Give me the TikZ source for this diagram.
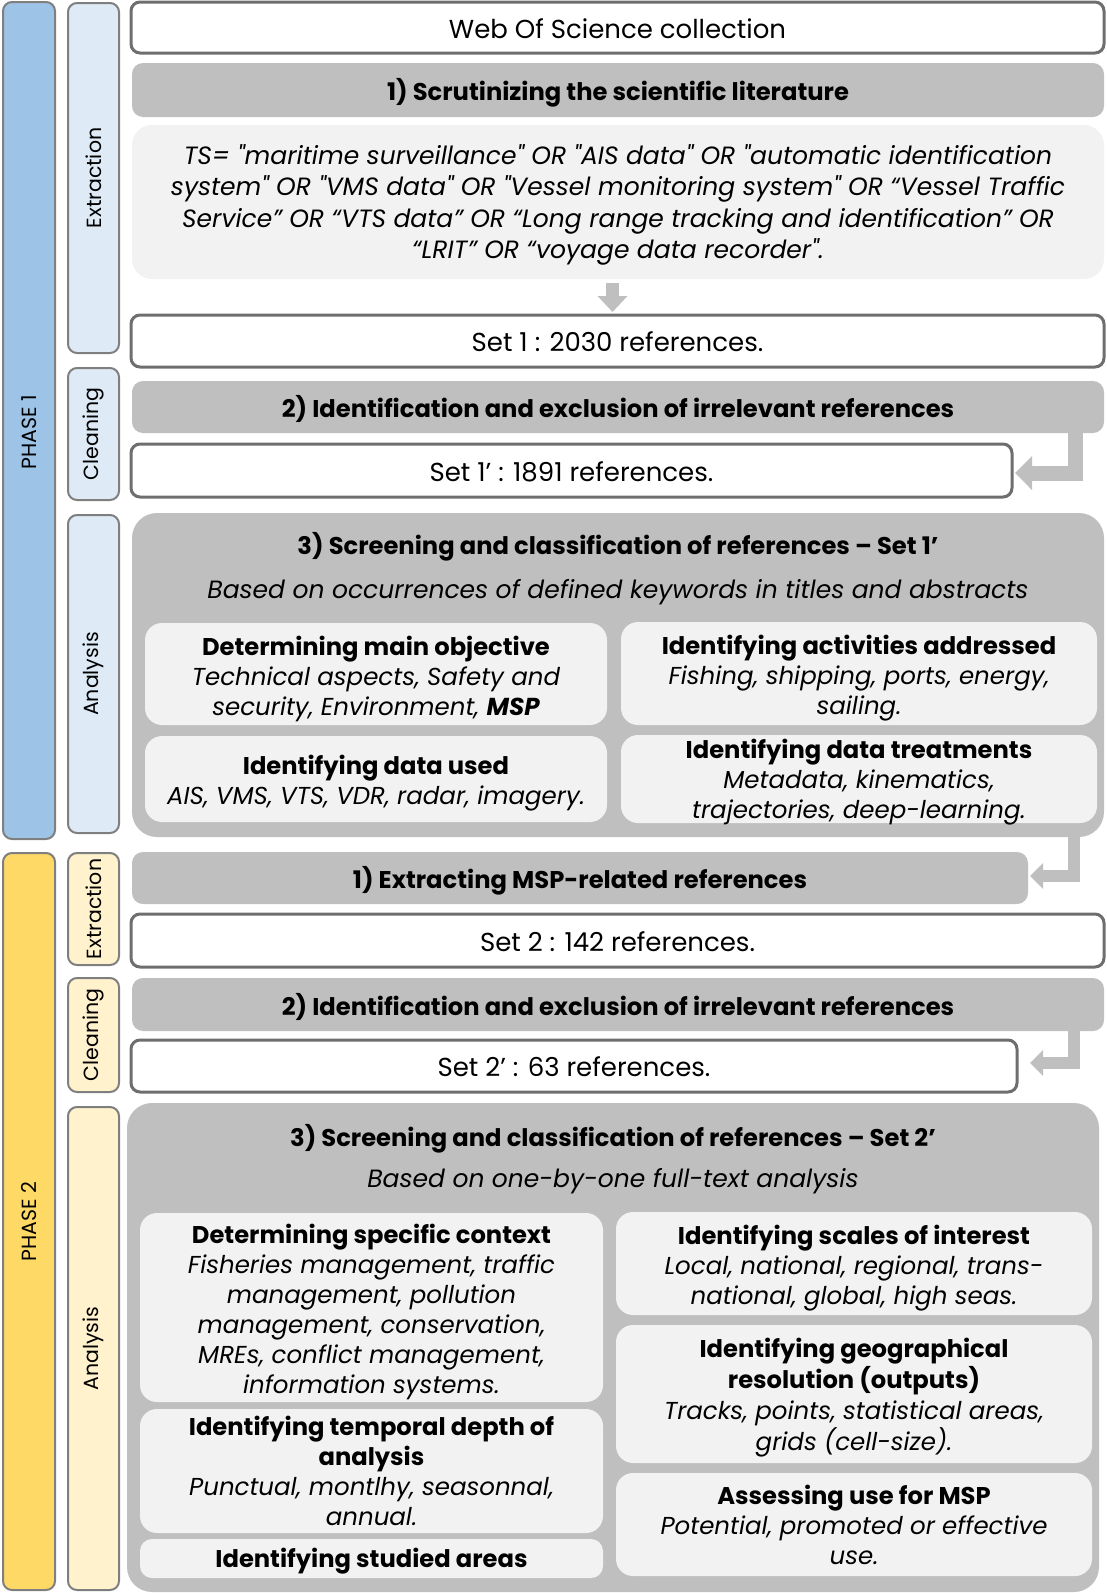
\documentclass[tikz,border=0pt]{standalone}
\usepackage{fontspec}
\setmainfont{Poppins}[Ligatures=TeXOff]
\usetikzlibrary{arrows.meta}
\definecolor{phonecol}{HTML}{9DC3E6}
\definecolor{phonesub}{HTML}{DEEBF7}
\definecolor{phtwocol}{HTML}{FFD966}
\definecolor{phtwosub}{HTML}{FFF2CC}
\definecolor{barborder}{HTML}{7F7F7F}
\definecolor{boxborder}{HTML}{6E6E6E}
\definecolor{gbar}{HTML}{BFBFBF}
\definecolor{lbox}{HTML}{F2F2F2}
\newcommand{\fsreg}{\fontsize{26}{30}\selectfont}
\newcommand{\fsbold}{\fontsize{24.2}{30}\selectfont\bfseries}
\newcommand{\fsital}{\fontsize{24.5}{30}\selectfont\itshape}
\newcommand{\fssub}{\fontsize{25}{30}\selectfont\itshape}
\newcommand{\fsside}{\fontsize{20.5}{25}\selectfont}
\newcommand{\bl}[1]{{\fsbold #1}}
\newcommand{\il}[1]{{\fsital #1}}
\begin{document}
\begin{tikzpicture}[x=1pt,y=-1pt,
  every node/.style={inner sep=0pt, outer sep=0pt, text=black},
  sidebar/.style={rotate=90, draw=barborder, line width=2pt, rounded corners=9pt, font=\fsside},
  whitebox/.style={fill=white, draw=boxborder, line width=3pt, rounded corners=9pt},
  graybar/.style={fill=gbar, rounded corners=11pt},
  querybox/.style={fill=lbox, rounded corners=20pt},
  bigbox/.style={fill=gbar, rounded corners=25pt},
  innerbox/.style={fill=lbox, rounded corners=17pt},
  regtext/.style={font=\fsreg},
  boldtext/.style={font=\fsbold},
  subtext/.style={font=\fssub},
  cellstext/.style={font=\fsreg, align=center},
  bigarrow/.style={draw=gbar, line width=15pt, -{Triangle[width=33pt 0, length=17pt 0]}},
  smallarrow/.style={draw=gbar, line width=12pt, -{Triangle[width=25pt 0, length=13pt 0]}},
  downarrow/.style={draw=gbar, line width=13pt, -{Triangle[width=29pt 0, length=16pt 0]}}
]
\useasboundingbox (0,0) rectangle (1106,1593);

% phase bars
\node[sidebar, fill=phonecol, minimum width=837, minimum height=52] (ph1) at (29,420.5) {PHASE 1\hspace*{24pt}};
\node[sidebar, fill=phtwocol, minimum width=737, minimum height=52] (ph2) at (29,1221.5) {PHASE 2};
% step bars
\node[sidebar, fill=phonesub, minimum width=350, minimum height=51] (s1e) at (93.5,178) {Extraction};
\node[sidebar, fill=phonesub, minimum width=132, minimum height=51] (s1c) at (93.5,434) {Cleaning};
\node[sidebar, fill=phonesub, minimum width=318, minimum height=51] (s1a) at (93.5,674) {Analysis};
\node[sidebar, fill=phtwosub, minimum width=112, minimum height=51] (s2e) at (93.5,909) {Extraction};
\node[sidebar, fill=phtwosub, minimum width=114, minimum height=51] (s2c) at (93.5,1035) {Cleaning};
\node[sidebar, fill=phtwosub, minimum width=483, minimum height=51] (s2a) at (93.5,1348.5) {Analysis};

% phase 1 column
\node[whitebox, minimum width=973, minimum height=51] (wos) at (617.5,27.5) {};
\node[regtext, yshift=-1pt] (wost) at (wos.center) {Web Of Science collection};
\node[graybar, minimum width=972, minimum height=54] (t1) at (618,90) {};
\node[boldtext, yshift=-3pt] (t1t) at (t1.center) {1) Scrutinizing the scientific literature};
\node[querybox, minimum width=972, minimum height=154] (query) at (618,202) {};
\node[font=\fontsize{25}{31.5}\selectfont\itshape, align=center, yshift=-3pt] (queryt) at (query.center) {%
TS= "maritime surveillance" OR "AIS data" OR "automatic identification\\
system" OR "VMS data" OR "Vessel monitoring system" OR “Vessel Traffic\\
Service” OR “VTS data” OR “Long range tracking and identification” OR\\
“LRIT” OR “voyage data recorder".};
\node[whitebox, minimum width=973, minimum height=52] (set1) at (617.5,341) {};
\node[regtext, yshift=-1pt] (set1t) at (set1.center) {Set 1 : 2030 references.};
\node[graybar, minimum width=972, minimum height=52] (t2) at (618,407) {};
\node[boldtext, yshift=-2pt] (t2t) at (t2.center) {2) Identification and exclusion of irrelevant references};
\node[whitebox, minimum width=881, minimum height=53] (set1p) at (571.5,470.5) {};
\node[regtext, yshift=-1pt] (set1pt) at (set1p.center) {Set 1’ : 1891 references.};

\node[bigbox, minimum width=972, minimum height=324] (a1) at (618,675) {};
\node[boldtext] (a1t) at (618,547) {3) Screening and classification of references – Set 1’};
\node[subtext] (a1s) at (618,592) {Based on occurrences of defined keywords in titles and abstracts};
\node[innerbox, minimum width=462, minimum height=102] (b11) at (376,674) {};
\node[cellstext, yshift=-5pt] (b11t) at (b11.center) {%
\bl{Determining main objective}\\
\il{Technical aspects, Safety and}\\
\il{security, Environment, {\bfseries MSP}}};
\node[innerbox, minimum width=476, minimum height=103] (b12) at (859,673.5) {};
\node[cellstext, yshift=-5pt] (b12t) at (b12.center) {%
\bl{Identifying activities addressed}\\
\il{Fishing, shipping, ports, energy,}\\
\il{sailing.}};
\node[innerbox, minimum width=462, minimum height=86] (b13) at (376,779) {};
\node[cellstext, yshift=-4pt] (b13t) at (b13.center) {%
\bl{Identifying data used}\\
\il{AIS, VMS, VTS, VDR, radar, imagery.}};
\node[innerbox, minimum width=476, minimum height=88] (b14) at (859,779) {};
\node[cellstext, yshift=-3.5pt] (b14t) at (b14.center) {%
\bl{Identifying data treatments}\\
\il{Metadata, kinematics,}\\
\il{trajectories, deep-learning.}};

% phase 2 column
\node[graybar, minimum width=896, minimum height=52] (p2t1) at (580,878) {};
\node[boldtext, yshift=-3pt] (p2t1t) at (p2t1.center) {1) Extracting MSP-related references};
\node[whitebox, minimum width=973, minimum height=53] (set2) at (617.5,940.5) {};
\node[regtext, yshift=-1pt] (set2t) at (set2.center) {Set 2 : 142 references.};
\node[graybar, minimum width=972, minimum height=53] (p2t2) at (618,1004.5) {};
\node[boldtext, yshift=-2pt] (p2t2t) at (p2t2.center) {2) Identification and exclusion of irrelevant references};
\node[whitebox, minimum width=886, minimum height=52] (set2p) at (574,1066) {};
\node[regtext, yshift=-1pt] (set2pt) at (set2p.center) {Set 2’ : 63 references.};

\node[bigbox, minimum width=972, minimum height=489] (a2) at (613,1347.5) {};
\node[boldtext] (a2t) at (613,1139) {3) Screening and classification of references – Set 2’};
\node[subtext] (a2s) at (613,1181) {Based on one-by-one full-text analysis};
\node[innerbox, minimum width=463, minimum height=189] (c1) at (371.5,1307.5) {};
\node[cellstext, yshift=-4pt] (c1t) at (c1.center) {%
\bl{Determining specific context}\\
\il{Fisheries management, traffic}\\
\il{management, pollution}\\
\il{management, conservation,}\\
\il{MREs, conflict management,}\\
\il{information systems.}};
\node[innerbox, minimum width=463, minimum height=124] (c2) at (371.5,1471) {};
\node[cellstext] (c2t) at (c2.center) {%
\bl{Identifying temporal depth of}\\
\bl{analysis}\\
\il{Punctual, montlhy, seasonnal,}\\
\il{annual.}};
\node[innerbox, rounded corners=12pt, minimum width=463, minimum height=39] (c3) at (371.5,1558.5) {};
\node[boldtext, yshift=-3pt] (c3t) at (c3.center) {Identifying studied areas};
\node[innerbox, minimum width=476, minimum height=103] (d1) at (854,1263.5) {};
\node[cellstext, yshift=-4.5pt] (d1t) at (d1.center) {%
\bl{Identifying scales of interest}\\
\il{Local, national, regional, trans-}\\
\il{national, global, high seas.}};
\node[innerbox, minimum width=476, minimum height=138] (d2) at (854,1394) {};
\node[cellstext, font=\fontsize{26}{31}\selectfont, yshift=-4pt] (d2t) at (d2.center) {%
\bl{Identifying geographical}\\
\bl{resolution (outputs)}\\
\il{Tracks, points, statistical areas,}\\
\il{grids (cell-size).}};
\node[innerbox, minimum width=476, minimum height=103] (d3) at (854,1524.5) {};
\node[cellstext] (d3t) at (d3.center) {%
\bl{Assessing use for MSP}\\
\il{Potential, promoted or effective}\\
\il{use.}};

% arrows
\draw[downarrow] ([xshift=-5.5pt,yshift=-4pt]query.south) -- ([xshift=-5pt,yshift=3pt]set1.north);
\draw[bigarrow] ([xshift=457pt]t2.center) |- ([xshift=3pt,yshift=-2.5pt]set1p.east);
\draw[smallarrow] ([xshift=456pt,yshift=5pt]a1.south) |- ([xshift=2pt,yshift=2pt]p2t1.east);
\draw[smallarrow] ([xshift=456pt]p2t2.center) |- ([xshift=13pt,yshift=3pt]set2p.east);
\end{tikzpicture}
\end{document}
